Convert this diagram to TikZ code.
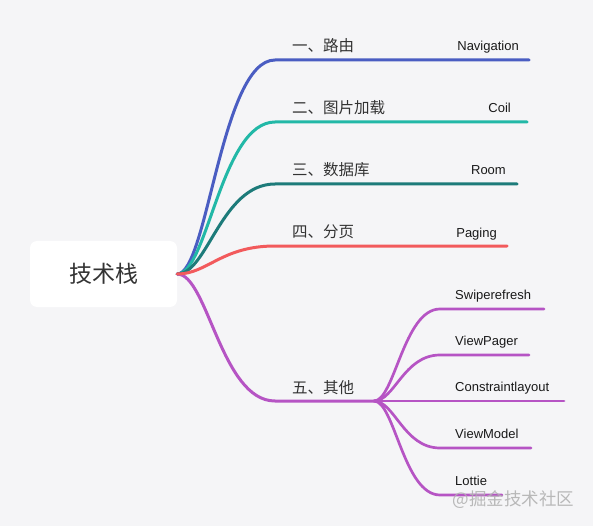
\documentclass[tikz,border=0pt]{standalone}
\usepackage{fontspec}
\setmainfont{Liberation Sans}
\newfontfamily\cjk{Noto Sans CJK SC}
\usetikzlibrary{calc}
\definecolor{bgcol}{HTML}{F5F5F7}
\definecolor{navblue}{HTML}{4A5DC2}
\definecolor{coilteal}{HTML}{22B8A7}
\definecolor{roomteal}{HTML}{1D7B7A}
\definecolor{pagered}{HTML}{F25A5C}
\definecolor{otherpurple}{HTML}{B654C4}
\definecolor{txt}{HTML}{333333}
\tikzset{
	rootbox/.style={fill=white, rounded corners=7pt, minimum width=147pt, minimum height=66pt, inner sep=0pt, font=\cjk\fontsize{23}{26}\selectfont, text=txt},
	topic/.style={anchor=base west, inner sep=0pt, font=\cjk\fontsize{15.5}{18}\selectfont, text=txt},
	leaf/.style={inner sep=0pt, font=\fontsize{13}{16}\selectfont, text=black!90},
	edge/.style={line width=3pt, line cap=round},
	twig/.style={line width=2.7pt, line cap=round},
	wmtext/.style={inner sep=0pt, font=\cjk\fontsize{17.5}{20}\selectfont, text=black!30, opacity=0.9},
}
\def\swoop[#1](#2)(#3)(#4){\draw[#1] let \p1=(#2), \p2=(#3) in (#2) .. controls ({\x1+0.31*(\x2-\x1)},\y1) and ({\x1+0.45*(\x2-\x1)},\y2) .. (#3) -- (#4);}

\begin{document}
\begin{tikzpicture}[x=1pt,y=-1pt]
			%%%%% START %%%%%
			
			\fill[bgcol] (0,0) rectangle (593,526);
			\useasboundingbox (0,0) rectangle (593,526);
			
			\node[rootbox] (root) at (103.5,274) {技术栈};
			
			\coordinate (lu) at (275,60);
			\coordinate (lu-end) at (529,60);
			\coordinate (tp) at (275,122);
			\coordinate (tp-end) at (527,122);
			\coordinate (sj) at (275,184);
			\coordinate (sj-end) at (517,184);
			\coordinate (fy) at (275,246);
			\coordinate (fy-end) at (507,246);
			\coordinate (qt) at (275,401);
			\coordinate (qt-mid) at (374,401);
			
			\swoop[edge, navblue](root.east)(lu)(lu-end)
			\swoop[edge, coilteal](root.east)(tp)(tp-end)
			\swoop[edge, roomteal](root.east)(sj)(sj-end)
			\swoop[edge, otherpurple](root.east)(qt)(qt-mid)
			\swoop[edge, pagered](root.east)(fy)(fy-end)
			
			\node[topic] (lu-t) at (292,52) {一、路由};
			\node[topic] (tp-t) at (292,114) {二、图片加载};
			\node[topic] (sj-t) at (292,176) {三、数据库};
			\node[topic] (fy-t) at (292,238) {四、分页};
			\node[topic] (qt-t) at (292,393) {五、其他};
			
			\node[leaf, anchor=base east] (nav) at (519,51) {Navigation};
			\node[leaf, anchor=base east] (coil) at (511,113) {Coil};
			\node[leaf, anchor=base east] (room) at (506,175) {Room};
			\node[leaf, anchor=base east] (paging) at (497,237) {Paging};
			
			\coordinate (sw) at (440,309);
			\coordinate (sw-end) at (544,309);
			\coordinate (vp) at (440,355);
			\coordinate (vp-end) at (529,355);
			\coordinate (cl) at (440,401);
			\coordinate (cl-end) at (564,401);
			\coordinate (vm) at (440,448);
			\coordinate (vm-end) at (531,448);
			\coordinate (lt) at (440,495);
			\coordinate (lt-end) at (502,495);
			
			\swoop[twig, otherpurple](qt-mid)(sw)(sw-end)
			\swoop[twig, otherpurple](qt-mid)(vp)(vp-end)
			\swoop[twig, otherpurple](qt-mid)(cl)(cl-end)
			\swoop[twig, otherpurple](qt-mid)(vm)(vm-end)
			\swoop[twig, otherpurple](qt-mid)(lt)(lt-end)
			
			\node[leaf, anchor=base west] (swipe) at (455,299.5) {Swiperefresh};
			\node[leaf, anchor=base west] (pager) at (455,345.5) {ViewPager};
			\node[leaf, anchor=base west] (layout) at (455,391.5) {Constraintlayout};
			\node[leaf, anchor=base west] (model) at (455,438.5) {ViewModel};
			\node[leaf, anchor=base west] (lottie) at (455,485.5) {Lottie};
			
			\node[wmtext] (juejin) at (513.5,500) {@掘金技术社区};
			
			%%%%% END %%%%%
		\end{tikzpicture}
\end{document}
